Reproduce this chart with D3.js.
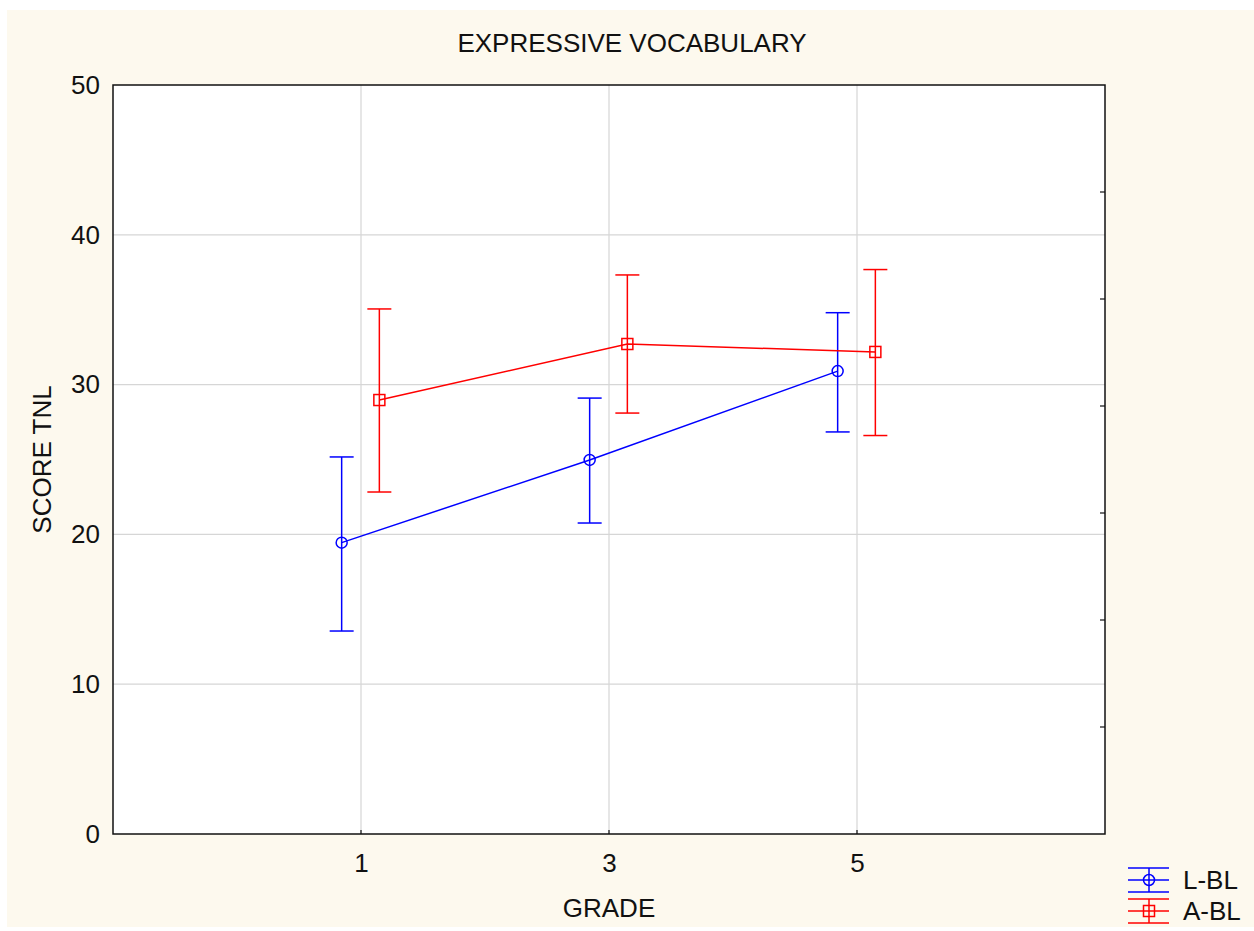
<!DOCTYPE html>
<html>
<head>
<meta charset="utf-8">
<script src="https://cdn.jsdelivr.net/npm/d3@7"></script>
<style>
  html, body { margin: 0; padding: 0; background: #ffffff; }
  svg { display: block; }
  text { font-family: "Liberation Sans", Arial, sans-serif; fill: #111; }
</style>
</head>
<body>
<svg id="chart" width="1254" height="931"></svg>
<script>
// Grade levels on the x axis
const grades = ["1", "3", "5"];
const yTicks = [0, 10, 20, 30, 40, 50];

// Group means with lower/upper bounds of the error bars
const seriesNames = ["L-BL", "A-BL"];
const seriesColors = ["#0000ff", "#ff0000"];
const lblMean = [19.45, 24.97, 30.9];
const lblLow = [13.55, 20.76, 26.84];
const lblHigh = [25.17, 29.1, 34.8];
const ablMean = [28.97, 32.71, 32.18];
const ablLow = [22.83, 28.1, 26.6];
const ablHigh = [35.05, 37.32, 37.68];

const series = [
  { name: seriesNames[0], color: seriesColors[0], shape: "circle", shift: -0.078,
    mean: lblMean, low: lblLow, high: lblHigh },
  { name: seriesNames[1], color: seriesColors[1], shape: "square", shift: 0.074,
    mean: ablMean, low: ablLow, high: ablHigh }
];

const svg = d3.select("#chart");
const W = 1254, H = 931;
const plot = { left: 113, top: 85, right: 1105, bottom: 834 };
const FS = 26;

// cream page background
svg.append("rect").attr("x", 7).attr("y", 10).attr("width", W - 7).attr("height", 917)
  .attr("fill", "#fdf9ee");

const x = d3.scaleLinear().domain([0, grades.length + 1]).range([plot.left, plot.right]);
const y = d3.scaleLinear().domain([0, 50]).range([plot.bottom, plot.top]);

// plot area
svg.append("rect").attr("x", plot.left).attr("y", plot.top)
  .attr("width", plot.right - plot.left).attr("height", plot.bottom - plot.top)
  .attr("fill", "#ffffff");

// grid
const grid = svg.append("g").attr("stroke", "#d6d6d6").attr("stroke-width", 1.2);
yTicks.filter(v => v > 0 && v < 50).forEach(v => {
  grid.append("line").attr("x1", plot.left).attr("x2", plot.right)
    .attr("y1", y(v)).attr("y2", y(v));
});
grades.forEach((g, i) => {
  grid.append("line").attr("x1", x(i + 1)).attr("x2", x(i + 1))
    .attr("y1", plot.top).attr("y2", plot.bottom);
});

// y axis labels
const yAxis = d3.axisLeft(y).tickValues(yTicks).tickSize(0).tickPadding(13);
const gy = svg.append("g").attr("transform", `translate(${plot.left},0)`).call(yAxis);
gy.select(".domain").remove();
gy.selectAll("text").attr("font-size", FS).attr("font-family", "Liberation Sans, Arial, sans-serif")
  .attr("fill", "#111");

// x axis labels
const xAxis = d3.axisBottom(x).tickValues(grades.map((g, i) => i + 1))
  .tickFormat((d, i) => grades[i]).tickSize(0).tickPadding(20);
const gx = svg.append("g").attr("transform", `translate(0,${plot.bottom})`).call(xAxis);
gx.select(".domain").remove();
gx.selectAll("text").attr("font-size", FS).attr("font-family", "Liberation Sans, Arial, sans-serif")
  .attr("fill", "#111");

// small inward ticks
const ticks = svg.append("g").attr("stroke", "#111").attr("stroke-width", 1.2);
grades.forEach((g, i) => {
  ticks.append("line").attr("x1", x(i + 1)).attr("x2", x(i + 1))
    .attr("y1", plot.bottom).attr("y2", plot.bottom - 4);
});
d3.range(1, 7).forEach(k => {
  const yy = plot.top + (plot.bottom - plot.top) * k / 7;
  ticks.append("line").attr("x1", plot.right).attr("x2", plot.right - 5)
    .attr("y1", yy).attr("y2", yy);
});

// plot border
svg.append("rect").attr("x", plot.left).attr("y", plot.top)
  .attr("width", plot.right - plot.left).attr("height", plot.bottom - plot.top)
  .attr("fill", "none").attr("stroke", "#111").attr("stroke-width", 1.5);

// series: lines, error bars, markers
const cap = 12;
series.forEach(s => {
  const g = svg.append("g").attr("stroke", s.color).attr("stroke-width", 1.5).attr("fill", "none");
  const px = i => x(i + 1 + s.shift);
  const line = d3.line().x((d, i) => px(i)).y(d => y(d));
  g.append("path").attr("d", line(s.mean));
  s.mean.forEach((m, i) => {
    g.append("line").attr("x1", px(i)).attr("x2", px(i)).attr("y1", y(s.low[i])).attr("y2", y(s.high[i]));
    g.append("line").attr("x1", px(i) - cap).attr("x2", px(i) + cap).attr("y1", y(s.low[i])).attr("y2", y(s.low[i]));
    g.append("line").attr("x1", px(i) - cap).attr("x2", px(i) + cap).attr("y1", y(s.high[i])).attr("y2", y(s.high[i]));
    if (s.shape === "circle") {
      g.append("circle").attr("cx", px(i)).attr("cy", y(m)).attr("r", 5.5);
    } else {
      g.append("rect").attr("x", px(i) - 5.5).attr("y", y(m) - 5.5).attr("width", 11).attr("height", 11);
    }
  });
});

// title and axis titles
svg.append("text").attr("x", 632).attr("y", 52).attr("text-anchor", "middle")
  .attr("font-size", FS).text("EXPRESSIVE VOCABULARY");
svg.append("text").attr("x", 609).attr("y", 917).attr("text-anchor", "middle")
  .attr("font-size", FS).text("GRADE");
svg.append("text").attr("transform", `translate(51,${(plot.top + plot.bottom) / 2}) rotate(-90)`)
  .attr("text-anchor", "middle").attr("font-size", FS).text("SCORE TNL");

// legend
const legendY = [880, 911];
series.forEach((s, k) => {
  const cy = legendY[k];
  const g = svg.append("g").attr("stroke", s.color).attr("stroke-width", 1.5).attr("fill", "none");
  [-12, 0, 12].forEach(dy => {
    g.append("line").attr("x1", 1128).attr("x2", 1169).attr("y1", cy + dy).attr("y2", cy + dy);
  });
  g.append("line").attr("x1", 1149).attr("x2", 1149).attr("y1", cy - 12).attr("y2", cy + 12);
  if (s.shape === "circle") {
    g.append("circle").attr("cx", 1149).attr("cy", cy).attr("r", 5.5);
  } else {
    g.append("rect").attr("x", 1143.5).attr("y", cy - 5.5).attr("width", 11).attr("height", 11);
  }
  svg.append("text").attr("x", 1183).attr("y", cy).attr("dominant-baseline", "central")
    .attr("font-size", FS).text(s.name);
});
</script>
</body>
</html>
